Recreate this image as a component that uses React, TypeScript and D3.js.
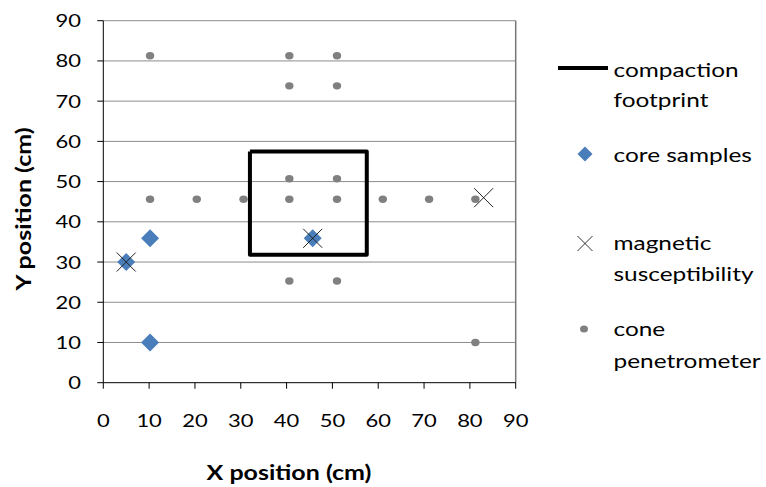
import React from "react";
import * as d3 from "d3";

const xTicks = [0, 10, 20, 30, 40, 50, 60, 70, 80, 90];
const yTicks = [0, 10, 20, 30, 40, 50, 60, 70, 80, 90];

const coneX = [10.2, 40.6, 51, 40.6, 51, 40.6, 51, 10.2, 20.4, 30.6, 40.6, 51, 61, 71.1, 81.2, 40.6, 51, 81.2];
const coneY = [81.3, 81.3, 81.3, 73.8, 73.8, 50.7, 50.7, 45.6, 45.6, 45.6, 45.6, 45.6, 45.6, 45.6, 45.6, 25.3, 25.3, 10];

const coreX = [5, 10.2, 45.7, 10.2];
const coreY = [30, 35.9, 35.9, 10];

const magX = [5, 45.7, 83];
const magY = [30, 35.9, 46];

const footX = [32, 57.5, 57.5, 32, 32];
const footY = [57.5, 57.5, 31.8, 31.8, 57.5];

const legendLabels = [
  ["compaction", "footprint"],
  ["core samples"],
  ["magnetic", "susceptibility"],
  ["cone", "penetrometer"],
];

const FONT = "Lato, 'Open Sans', sans-serif";

type TProps = {
  x: number;
  y: number;
  anchor?: "start" | "middle" | "end";
  size: number;
  weight?: string;
  sx?: number;
  rotate?: number;
  children: React.ReactNode;
};

function T({ x, y, anchor = "start", size, weight = "normal", sx = 1.22, rotate, children }: TProps) {
  const tr = `translate(${x},${y})${rotate ? ` rotate(${rotate})` : ""} scale(${sx},1)`;
  return (
    <g transform={tr}>
      <text textAnchor={anchor} fontSize={size} fontWeight={weight} fill="#000">
        {children}
      </text>
    </g>
  );
}

export default function App() {
  const W = 766, H = 487;
  const x = d3.scaleLinear().domain([0, 90]).range([103.3, 515.7]);
  const y = d3.scaleLinear().domain([0, 90]).range([382.7, 20.7]);
  const line = d3.line<number>().x((_, i) => x(footX[i])).y((_, i) => y(footY[i]));
  const diamond = (cx: number, cy: number, r: number) =>
    `M${cx},${cy - r}L${cx + r},${cy}L${cx},${cy + r}L${cx - r},${cy}Z`;
  const cross = (cx: number, cy: number, r: number) =>
    `M${cx - r},${cy - r}L${cx + r},${cy + r}M${cx - r},${cy + r}L${cx + r},${cy - r}`;

  const legendY = [[77, 107], [162], [250, 281], [336, 368]];

  return (
    <svg width={W} height={H} style={{ position: "absolute", left: 0, top: 0, background: "#fff" }} fontFamily={FONT}>
      {/* gridlines */}
      {yTicks.slice(1).map((t) => (
        <line key={"g" + t} x1={x(0)} x2={x(90)} y1={y(t)} y2={y(t)} stroke="#8c8c8c" strokeWidth={1} />
      ))}
      <line x1={x(90)} x2={x(90)} y1={y(0)} y2={y(90)} stroke="#777" strokeWidth={1.5} />
      {/* axes */}
      <line x1={x(0)} x2={x(0)} y1={y(0)} y2={y(90)} stroke="#000" strokeWidth={1} />
      <line x1={x(0)} x2={x(90)} y1={y(0)} y2={y(0)} stroke="#000" strokeWidth={1} />
      {yTicks.map((t) => (
        <g key={"yt" + t}>
          <line x1={x(0) - 6} x2={x(0)} y1={y(t)} y2={y(t)} stroke="#000" />
          <T x={81} y={y(t) + 6.5} anchor="end" size={18}>{t}</T>
        </g>
      ))}
      {xTicks.map((t) => (
        <g key={"xt" + t}>
          <line x1={x(t)} x2={x(t)} y1={y(0)} y2={y(0) + 6} stroke="#000" />
          <T x={x(t)} y={427} anchor="middle" size={18}>{t}</T>
        </g>
      ))}
      <T x={289} y={480} anchor="middle" size={20} weight="bold" sx={1.25}>X position (cm)</T>
      <T x={31} y={209} anchor="middle" size={20} weight="bold" sx={1.25} rotate={-90}>Y position (cm)</T>

      {/* cone penetrometer */}
      {coneX.map((v, i) => (
        <ellipse key={"c" + i} cx={x(v)} cy={y(coneY[i])} rx={4.2} ry={3.7} fill="#808080" />
      ))}
      {/* footprint */}
      <path d={line(footX) || ""} fill="none" stroke="#000" strokeWidth={4} strokeLinejoin="round" />
      {/* core samples */}
      {coreX.map((v, i) => (
        <path key={"d" + i} d={diamond(x(v), y(coreY[i]), 9)} fill="#4a7ebb" />
      ))}
      {/* magnetic */}
      {magX.map((v, i) => (
        <path key={"m" + i} d={cross(x(v), y(magY[i]), 9.5)} stroke="#222" strokeWidth={1} fill="none" />
      ))}

      {/* legend */}
      <line x1={558} x2={608} y1={68} y2={68} stroke="#000" strokeWidth={4} />
      <path d={diamond(585, 154, 7.5)} fill="#4a7ebb" />
      <path d={cross(585, 243.5, 7.5)} stroke="#333" strokeWidth={1} fill="none" />
      <ellipse cx={584} cy={329} rx={4} ry={3.5} fill="#808080" />
      {legendY.map((ys, i) =>
        ys.map((yy, j) => (
          <T key={"l" + i + j} x={613.5} y={yy} size={20}>{legendLabels[i][j]}</T>
        ))
      )}
    </svg>
  );
}
